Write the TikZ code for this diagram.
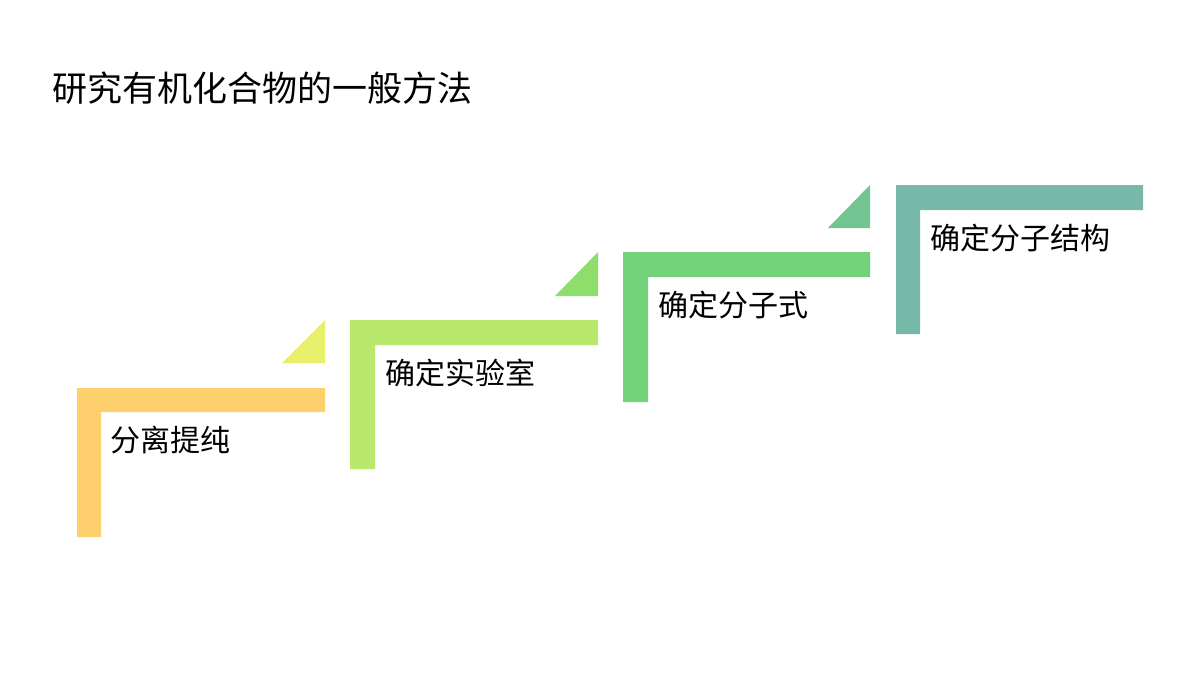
\documentclass[tikz,border=0pt]{standalone}
\usepackage{fontspec}
\newfontfamily\cjk{Noto Sans CJK SC}
\begin{document}
\begin{tikzpicture}[x=1pt,y=-1pt,
  lbl/.style={anchor=west,font=\cjk\fontsize{30}{34}\selectfont,inner sep=0},
  ttl/.style={anchor=west,font=\cjk\fontsize{35}{40}\selectfont,inner sep=0}]
\definecolor{c1}{HTML}{FDCF6D}\definecolor{t1}{HTML}{E8EF6A}
\definecolor{c2}{HTML}{B8E86C}\definecolor{t2}{HTML}{8EDE6E}
\definecolor{c3}{HTML}{72D27A}\definecolor{t3}{HTML}{72C592}
\definecolor{c4}{HTML}{78B8A8}
\useasboundingbox (0,0) rectangle (1200,675);
\fill[c1] (77,388) -- (325,388) -- (325,412) -- (101,412) -- (101,537) -- (77,537) -- cycle;
\fill[t1] (282,363) -- (325,363) -- (325,320) -- cycle;
\fill[c2] (350,320) -- (598,320) -- (598,345) -- (375,345) -- (375,469) -- (350,469) -- cycle;
\fill[t2] (555,296) -- (598,296) -- (598,252) -- cycle;
\fill[c3] (623,252) -- (870,252) -- (870,277) -- (648,277) -- (648,402) -- (623,402) -- cycle;
\fill[t3] (828,228) -- (870,228) -- (870,185) -- cycle;
\fill[c4] (896,185) -- (1143,185) -- (1143,210) -- (920,210) -- (920,334) -- (896,334) -- cycle;
\node[ttl] (title) at (52,88) {研究有机化合物的一般方法};
\node[lbl] (s1) at (110,440) {分离提纯};
\node[lbl] (s2) at (385,373) {确定实验室};
\node[lbl] (s3) at (658,305) {确定分子式};
\node[lbl] (s4) at (930,238) {确定分子结构};
\end{tikzpicture}
\end{document}
